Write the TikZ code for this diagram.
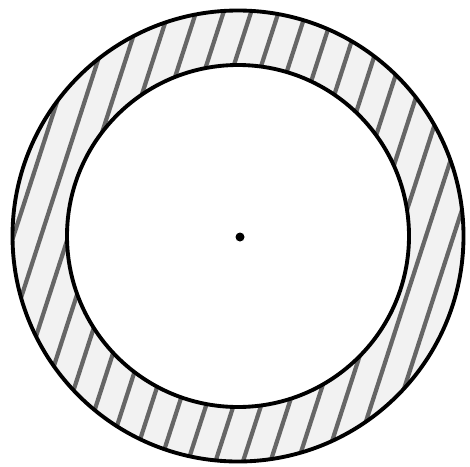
\documentclass[tikz,border=0pt]{standalone}
\usetikzlibrary{calc}
\begin{document}
\begin{tikzpicture}[
  x=0.01cm,y=0.01cm,
  rim/.style={line width=1.1pt,black},
  hatch/.style={line width=1.2pt,black!60},
  band/.style={fill=black!5}
]
\useasboundingbox (0,0) rectangle (470,466);
\coordinate (c) at (238,230);
% hatched ring
\begin{scope}[even odd rule]
  \clip (c) circle[radius=225.5] (c) circle[radius=171];
  \fill[band] (0,0) rectangle (470,466);
  \foreach \k in {-10,...,20}
    \draw[hatch] ({104+27.5*\k},0) -- ++(151,466);
\end{scope}
\draw[rim] (c) circle[radius=225.5];
\draw[rim] (c) circle[radius=171];
% centre point
\fill (240,229) circle[radius=4.5];
\end{tikzpicture}
\end{document}
